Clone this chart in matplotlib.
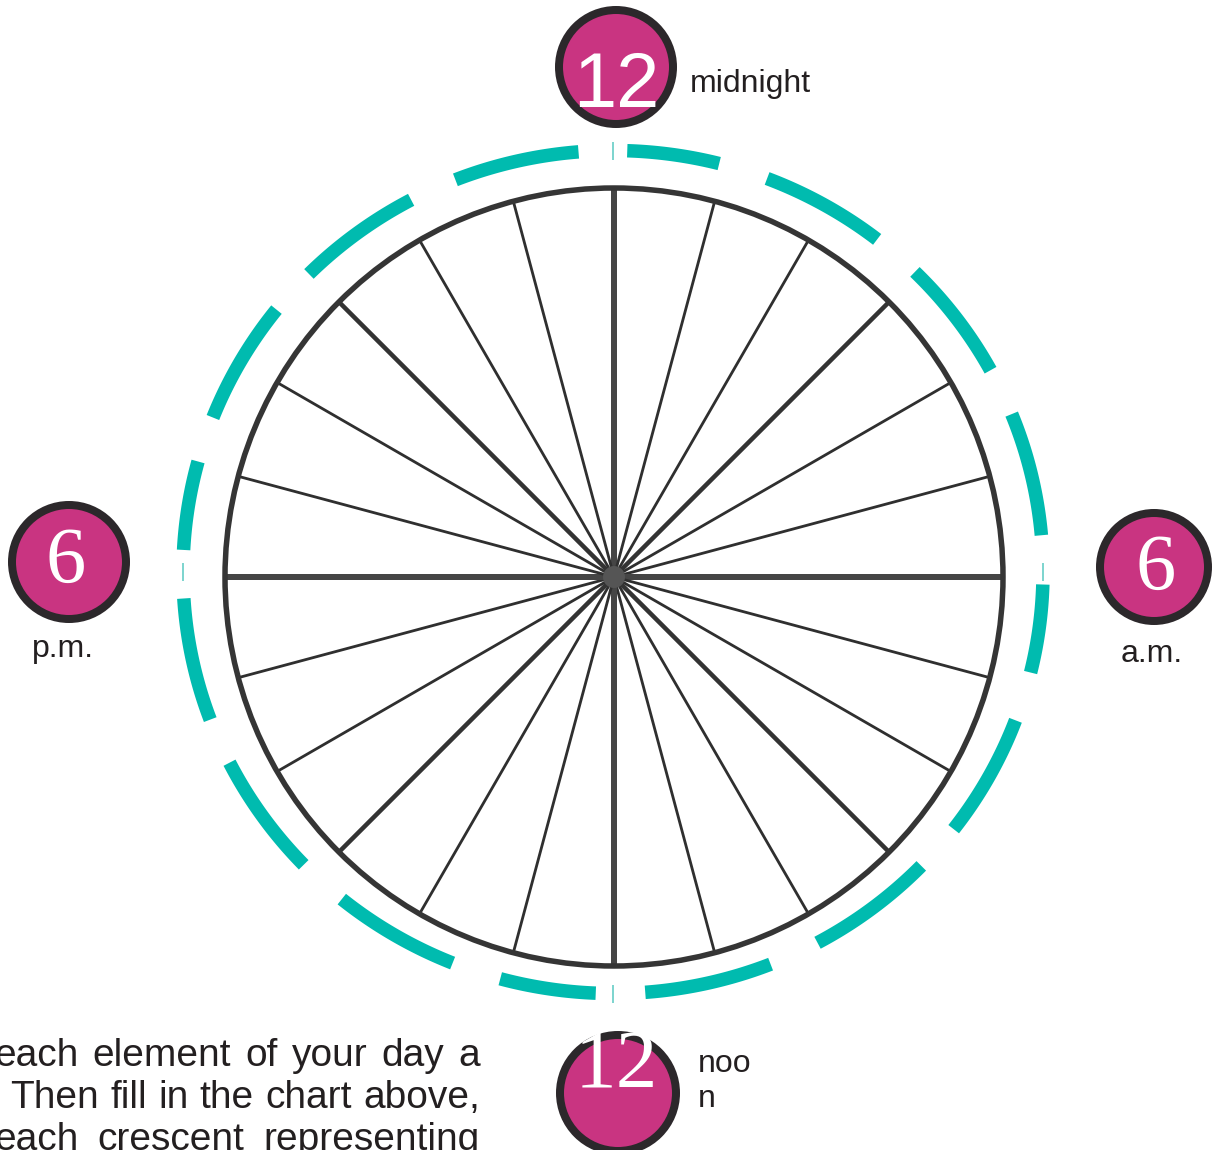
import numpy as np
import matplotlib.pyplot as plt
from matplotlib.patches import Circle

W, H = 1215, 1150
PT = 72 / 100  # pixels -> points at dpi 100

# 24 hour spokes, one every 15 degrees
hours = np.arange(24)
spoke_deg = hours * 15

# teal crescents (clock degrees: 0 = top, clockwise)
crescent_start = [1.9, 21.0, 44.6, 68.0, 91.7, 110.6, 134.2, 158.5,
                  182.3, 201.9, 226.0, 249.5, 273.0, 291.5, 315.0, 338.5]
crescent_end = [14.3, 37.9, 61.4, 85.0, 103.8, 127.6, 151.6, 175.7,
                195.2, 219.1, 243.1, 266.4, 285.2, 308.5, 332.0, 355.4]
tick_deg = [0, 90, 180, 270]

# hour badges
badge_num = ['12', '6', '12', '6']
badge_word = [['midnight'], ['a.m.'], ['noo', 'n'], ['p.m.']]

para = ['each element of your day a',
        'Then fill in the chart above,',
        'each crescent representing']

teal = '#00BBAF'
magenta = '#C93481'
ink = '#2C282B'
sans = ['Liberation Sans', 'DejaVu Sans']
serif = ['Liberation Serif', 'DejaVu Serif']

fig = plt.figure(figsize=(W / 100, H / 100), dpi=100)
ax = fig.add_axes([0, 0, 1, 1])
ax.set_xlim(0, W)
ax.set_ylim(H, 0)
ax.axis('off')

# clock face
cx, cy, R = 614, 577, 389
for d in spoke_deg:
    t = np.radians(d)
    if d % 90 == 0:
        lw, col = 6, '#454545'
    elif d % 45 == 0:
        lw, col = 4.5, '#333333'
    else:
        lw, col = 2.8, '#2f2f2f'
    ax.plot([cx, cx + R * np.sin(t)], [cy, cy - R * np.cos(t)],
            color=col, lw=lw * PT, solid_capstyle='butt', zorder=2)
ax.add_patch(Circle((cx, cy), R, fill=False, ec='#353535', lw=5.5 * PT, zorder=3))
ax.add_patch(Circle((cx, cy), 11, fc='#555555', ec='none', zorder=4))

# teal ring (slightly squashed vertically, as in the source)
rx, ry, rcx, rcy = 430, 421.5, 613, 572
for a0, a1 in zip(crescent_start, crescent_end):
    t = np.radians(np.linspace(a0, a1, 80))
    ax.plot(rcx + rx * np.sin(t), rcy - ry * np.cos(t), color=teal,
            lw=13.5 * PT, solid_capstyle='butt', zorder=2)
for d in tick_deg:
    t = np.radians(d)
    x, y = rcx + rx * np.sin(t), rcy - ry * np.cos(t)
    ax.plot([x, x], [y - 8, y + 8], color='#7FD5CF', lw=2 * PT, zorder=2)

# badges: centre, radius, number font, number baseline, word position
badge_pos = [(616, 67, 57), (1154, 567, 54), (618, 1093, 58), (69, 562, 57)]
num_style = [(sans, 56, 616, 107), (serif, 58, 1156, 590),
             (serif, 60, 616, 1088), (serif, 58, 66, 583)]
word_pos = [(690, 92, 'left'), (1152, 662, 'center'),
            (698, 1072, 'left'), (63, 657, 'center')]

for (bx, by, br), (fam, fs, nx, ny), (wx, wy, ha), n, words in zip(
        badge_pos, num_style, word_pos, badge_num, badge_word):
    ax.add_patch(Circle((bx, by), br, fc=magenta, ec=ink, lw=8 * PT, zorder=5))
    ax.text(nx, ny, n, family=fam, fontsize=fs, color='white',
            ha='center', va='baseline', zorder=6)
    for i, w in enumerate(words):
        ax.text(wx, wy + 35 * i, w, family=sans, fontsize=23, color='#231F20',
                ha=ha, va='baseline', zorder=6)

# justified paragraph, cut by the left and bottom edges like the source
renderer = fig.canvas.get_renderer()
line_x = [(-6, 480), (10, 480), (-6, 480)]
line_y = [1066, 1108, 1150]
for line, (x0, x1), y in zip(para, line_x, line_y):
    words = line.split()
    tx = [ax.text(0, y, wd, family=sans, fontsize=28, color='#231F20',
                  ha='left', va='baseline') for wd in words]
    widths = [t.get_window_extent(renderer).width for t in tx]
    gap = (x1 - x0 - sum(widths)) / (len(words) - 1)
    x = x0
    for t, wdt in zip(tx, widths):
        t.set_x(x)
        x += wdt + gap

fig.savefig('out.png', dpi=100, facecolor='white')
